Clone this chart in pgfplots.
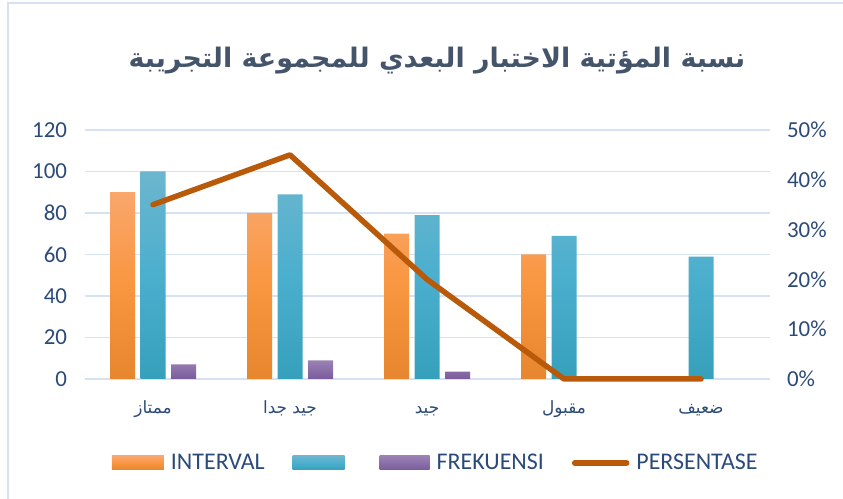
\documentclass[border=0pt]{standalone}
\usepackage{pgfplots}
\pgfplotsset{compat=1.18}
\usepackage{fontspec}
\setmainfont{Carlito}
\newfontfamily\arabicfont[Script=Arabic]{DejaVu Sans}
\TeXXeTstate=1
\definecolor{txt}{HTML}{2B4A78}
\definecolor{ttl}{HTML}{44546A}
\definecolor{gridc}{HTML}{D6E2F2}
\definecolor{linec}{HTML}{B85A0A}
\definecolor{orT}{HTML}{F9A76C}
\definecolor{orM}{HTML}{F99640}
\definecolor{orB}{HTML}{E6862E}
\definecolor{blT}{HTML}{6BB6CE}
\definecolor{blM}{HTML}{4BAFCE}
\definecolor{blB}{HTML}{36A0BB}
\definecolor{puT}{HTML}{9A82B4}
\definecolor{puB}{HTML}{7A5B9C}
\begin{document}
\begin{tikzpicture}[x=1bp,y=1bp]
\path[use as bounding box] (0,0) rectangle (843,499);
\draw[draw=gridc, line width=1.5bp] (8,0) -- (8,496) -- (843,496);
\node[font=\arabicfont\bfseries\fontsize{27}{33}\selectfont, text=ttl] at (437,438) {\beginR نسبة المؤتية الاختبار البعدي للمجموعة التجريبة\endR};
\begin{axis}[
  at={(84.5bp,120bp)}, anchor=south west,
  scale only axis, width=685bp, height=249bp,
  xmin=-0.5, xmax=4.5, ymin=0, ymax=120,
  ytick={0,20,...,120},
  xtick={0,1,2,3,4},
  xticklabels={{\beginR ممتاز\endR},{\beginR جيد جدا\endR},{\beginR جيد\endR},{\beginR مقبول\endR},{\beginR ضعيف\endR}},
  xticklabel style={font=\arabicfont\fontsize{17}{20}\selectfont, text=txt, anchor=base, yshift=-30bp},
  yticklabel style={font=\fontsize{23}{26}\selectfont, text=txt, xshift=-14bp},
  /pgf/number format/assume math mode=true,
  axis x line*=bottom, axis y line*=left,
  x axis line style={draw=gridc, line width=1.5bp},
  y axis line style={draw=none},
  tick style={draw=none},
  ymajorgrids, grid style={draw=gridc, line width=1.5bp},
  ybar=5.5bp, bar width=25bp,
]
\addplot[draw=none, top color=orT, bottom color=orB, middle color=orM] coordinates {(0,90) (1,80) (2,70) (3,60)};
\addplot[draw=none, top color=blT, bottom color=blB, middle color=blM] coordinates {(0,100) (1,89) (2,79) (3,69) (4,59)};
\addplot[draw=none, top color=puT, bottom color=puB] coordinates {(0,7) (1,9) (2,3.5)};
\end{axis}
\begin{axis}[
  at={(84.5bp,120bp)}, anchor=south west,
  scale only axis, width=685bp, height=249bp,
  xmin=-0.5, xmax=4.5, ymin=0, ymax=0.5,
  axis x line=none, axis y line*=right,
  y axis line style={draw=none}, tick style={draw=none},
  ytick={0,0.1,0.2,0.3,0.4,0.5},
  yticklabels={0\%,10\%,20\%,30\%,40\%,50\%},
  yticklabel style={font=\fontsize{23}{26}\selectfont, text=txt, xshift=14bp},
  clip=false,
  legend columns=4,
  legend style={at={(0.0401,-0.3373)}, anchor=west, draw=none, fill=none,
    inner sep=0pt, outer sep=0pt,
    font=\fontsize{24}{27}\selectfont, text=txt,
    nodes={inner sep=2bp},
    /tikz/every even column/.append style={column sep=26bp},
    /tikz/every odd column/.append style={column sep=5bp}},
]
\addlegendimage{legend image code/.code={\shade[draw=none, top color=orT, bottom color=orB, middle color=orM] (0bp,-7bp) rectangle (52bp,7bp);}}
\addlegendentry{INTERVAL}
\addlegendimage{legend image code/.code={\shade[draw=none, top color=blT, bottom color=blB, middle color=blM] (0bp,-7bp) rectangle (52bp,7bp);}}
\addlegendentry{}
\addlegendimage{legend image code/.code={\shade[draw=none, top color=puT, bottom color=puB] (0bp,-7bp) rectangle (50bp,7bp);}}
\addlegendentry{FREKUENSI}
\addplot[color=linec, line width=5.5bp, line join=round, line cap=round, mark=none,
  legend image code/.code={\draw[color=linec, line width=5.5bp, line cap=round] (3bp,0bp) -- (55bp,0bp);}]
  coordinates {(0,0.35) (1,0.45) (2,0.20) (3,0) (4,0)};
\addlegendentry{PERSENTASE}
\end{axis}
\end{tikzpicture}
\end{document}
